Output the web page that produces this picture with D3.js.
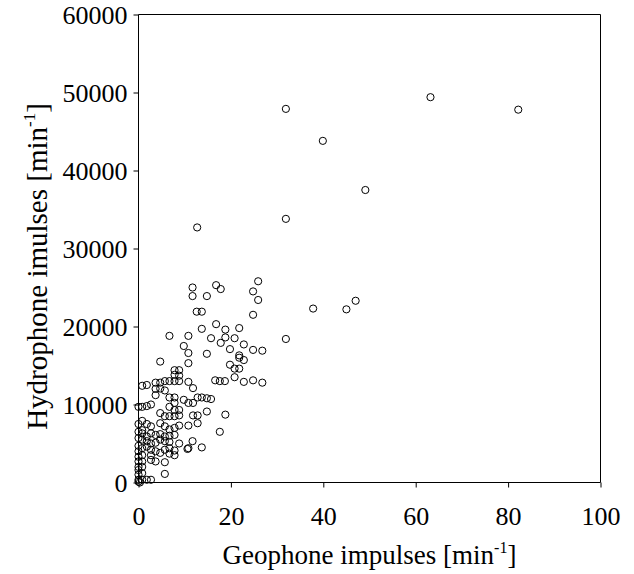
<!DOCTYPE html>
<html>
<head>
<meta charset="utf-8">
<script src="https://cdn.jsdelivr.net/npm/d3@7"></script>
<style>
    body { margin: 0; background: #fff; }
    svg { display: block; }
</style>
</head>
<body>
<svg></svg>
<script>
// geophone impulses (x) and hydrophone impulses (y)
let geophone = [
    63.2, 82.2, 39.9, 49.1, 37.8, 45.0, 47.0, 31.9, 31.9, 31.9, 12.7,
    11.7, 11.7, 16.8, 17.8, 14.8, 25.9, 24.8, 25.9, 12.6, 13.7, 24.8, 16.8, 13.7, 18.8, 21.8,
    20.8, 22.8, 19.8, 24.8, 26.8, 21.8, 21.8, 22.8, 19.8, 20.8, 21.8, 20.8, 22.8, 24.8, 26.8,
    6.7, 10.8, 15.7, 17.8, 18.8, 9.8, 10.8, 14.8, 10.8, 4.7,
    7.8, 8.8, 7.8, 8.8, 8.8,
    0.8, 1.8, 3.7, 4.7, 5.7, 6.7, 7.8, 10.8, 11.8, 16.6, 17.6, 18.7,
    3.7, 4.7, 3.7, 5.7, 6.7, 7.8, 7.8, 9.8, 10.8, 11.8, 12.8, 13.7, 14.8, 15.7,
    0, 0.8, 1.8, 2.7, 6.7, 7.8, 8.8, 4.7, 5.7, 6.7, 7.8, 8.8, 11.8, 12.8, 14.8, 18.8,
    0, 0.8, 1.8, 2.7, 4.7, 5.7, 6.7, 7.8, 8.8, 10.8, 12.8,
    0, 0.8, 0.8, 1.8, 2.7, 3.7, 4.7, 5.7, 6.7, 7.8, 17.6,
    0, 0.8, 1.8, 2.7, 3.7, 4.7, 5.7, 6.7, 8.8, 11.7, 13.7, 10.6,
    0, 0.8, 1.8, 2.7, 3.7, 5.7, 6.7, 7.8, 10.8,
    0.8, 2.7, 4.7, 6.7, 7.8,
    0, 0, 0, 0, 0, 0, 0, 0,
    0.8, 0.8, 0.8, 2.7, 3.7, 5.7, 5.7, 0.8, 1.8, 2.7, 0.3
];
let hydrophone = [
    49400, 47800, 43800, 37500, 22300, 22200, 23300, 47900, 33800, 18400, 32700,
    25000, 23900, 25300, 24800, 23900, 25800, 24500, 23400, 21900, 21900, 21500, 20300, 19700, 19600, 19800,
    18500, 17700, 17100, 17000, 16900, 16300, 16000, 15700, 15100, 14600, 14600, 13500, 12900, 13100, 12800,
    18800, 18800, 18500, 17900, 18600, 17500, 16600, 16500, 15300, 15500,
    14400, 14400, 13800, 13700, 13000,
    12400, 12500, 12800, 12800, 13000, 13000, 13000, 12900, 12100, 13100, 13000, 13000,
    12000, 12050, 11200, 11800, 10900, 10900, 10200, 10600, 10200, 10200, 10900, 10900, 10800, 10700,
    9700, 9700, 9800, 10000, 9700, 9300, 9300, 8900, 8500, 8500, 8500, 8600, 8600, 8600, 9100, 8700,
    7500, 7900, 7500, 7200, 7600, 7200, 6800, 7000, 7300, 7300, 7600,
    6500, 6700, 6300, 5900, 6300, 6100, 6200, 5900, 6000, 6100, 6500,
    5700, 5500, 5300, 5000, 5100, 5500, 5300, 5200, 5000, 5300, 4500, 4300,
    4700, 4400, 4600, 4200, 4000, 4200, 4400, 4100, 4400,
    3500, 3500, 3800, 3700, 3500,
    4000, 3300, 2700, 2000, 1600, 1000, 350, 100,
    2700, 2000, 1200, 2900, 2700, 2600, 1100, 350, 350, 350, 0
];

let xTicks = [0, 20, 40, 60, 80, 100];
let yTicks = [0, 10000, 20000, 30000, 40000, 50000, 60000];

let values = geophone.map((g, i) => [g, hydrophone[i]]);

let width = 634;
let height = 574;
let plotLeft = 138.5;
let plotRight = 600.5;
let plotTop = 14.5;
let plotBottom = 482.5;
let serif = "'Liberation Serif', 'Times New Roman', serif";

let xScale;
let yScale;

let svg = d3.select("svg");

let drawCanvas = () => {
    svg.attr("width", width)
    svg.attr("height", height)
}

let generateScales = () => {
    xScale = d3.scaleLinear()
                .domain([0, 100])
                .range([plotLeft, plotRight])

    yScale = d3.scaleLinear()
                .domain([0, 60000])
                .range([plotBottom, plotTop])
}

let drawFrame = () => {
    // top and right edges of the box (axes draw the other two)
    svg.append("path")
        .attr("d", "M" + xScale(0) + "," + yScale(60000) + "H" + xScale(100) + "V" + yScale(0))
        .attr("fill", "none")
        .attr("stroke", "#000")
        .attr("stroke-width", 1)
}

let drawPoints = () => {
    svg.append("g")
        .selectAll("circle")
        .data(values)
        .enter()
        .append("circle")
        .attr("cx", (item) => xScale(item[0]))
        .attr("cy", (item) => yScale(item[1]))
        .attr("r", 3.6)
        .attr("fill", "none")
        .attr("stroke", "#000")
        .attr("stroke-width", 1)
}

let generateAxes = () => {
    let xAxis = d3.axisBottom(xScale)
                    .tickValues(xTicks)
                    .tickSize(5)
                    .tickPadding(19)

    let gx = svg.append("g")
        .call(xAxis)
        .attr("transform", "translate(0, " + plotBottom + ")")
    gx.select(".domain").attr("d", "M" + plotLeft + ",0H" + plotRight)
    gx.selectAll(".tick text")
        .style("font-family", serif)
        .style("font-size", "26px")

    let yAxis = d3.axisLeft(yScale)
                    .tickValues(yTicks)
                    .tickSize(5)
                    .tickPadding(6)
                    .tickFormat(d3.format("d"))

    let gy = svg.append("g")
        .call(yAxis)
        .attr("transform", "translate(" + plotLeft + ", 0)")
    gy.select(".domain").attr("d", "M0," + plotBottom + "V" + plotTop)
    gy.selectAll(".tick text")
        .attr("dy", "0.34em")
        .style("font-family", serif)
        .style("font-size", "26px")
}

let drawLabels = () => {
    let xLabel = svg.append("text")
        .attr("x", (plotLeft + plotRight) / 2)
        .attr("y", 564)
        .attr("text-anchor", "middle")
        .style("font-family", serif)
        .style("font-size", "27px")
    xLabel.append("tspan").text("Geophone impulses [min")
    xLabel.append("tspan").style("font-size", "16px").attr("dy", -11).text("-1")
    xLabel.append("tspan").attr("dy", 11).text("]")

    let yLabel = svg.append("text")
        .attr("transform", "translate(47, " + ((plotTop + plotBottom) / 2 + 18) + ") rotate(-90)")
        .attr("text-anchor", "middle")
        .style("font-family", serif)
        .style("font-size", "29px")
    yLabel.append("tspan").text("Hydrophone imulses [min")
    yLabel.append("tspan").style("font-size", "17px").attr("dy", -12).text("-1")
    yLabel.append("tspan").attr("dy", 12).text("]")
}

drawCanvas()
generateScales()
drawFrame()
drawPoints()
generateAxes()
drawLabels()
</script>
</body>
</html>
